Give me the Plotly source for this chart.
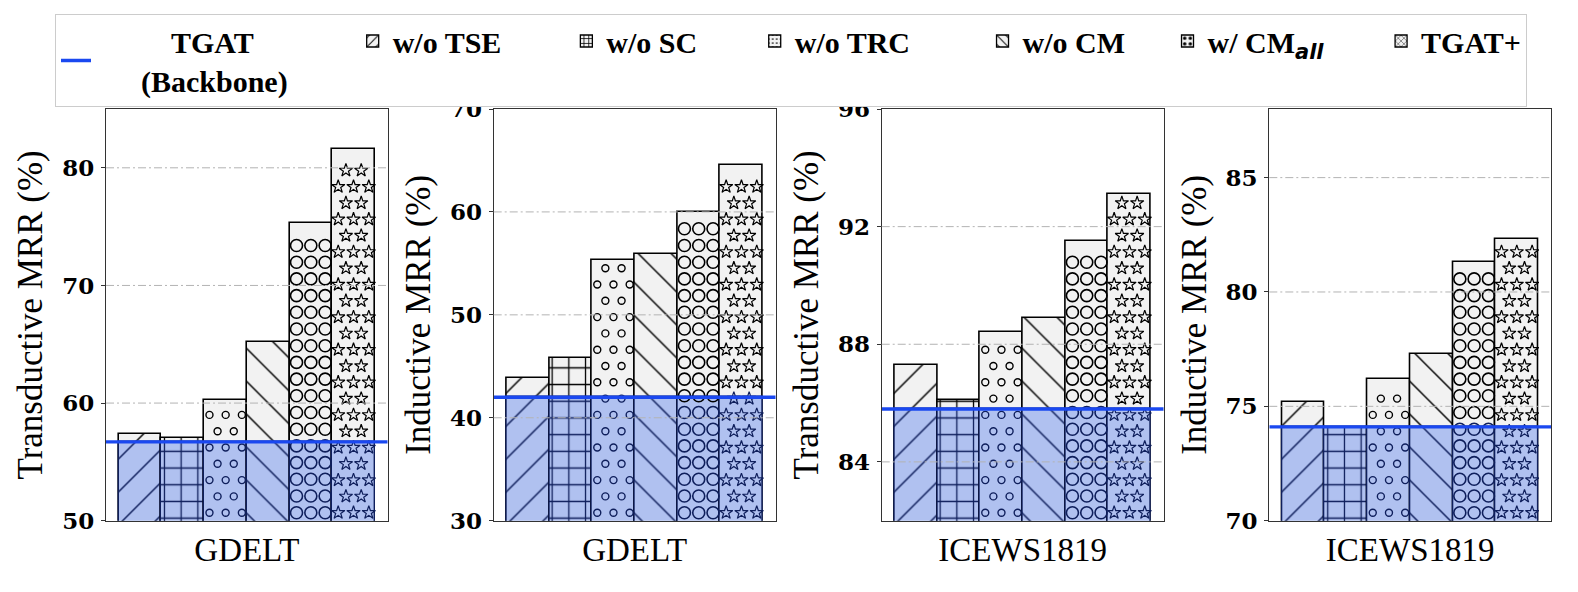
import plotly.graph_objects as go

NB = "\u00a0"

# ---------------- data ----------------
VARIANTS = ["w/o TSE", "w/o SC", "w/o TRC", "w/o CM",
            "w/ CM<sub><i><span style='font-family:DejaVu Sans'>all</span></i></sub>", "TGAT+"]
BACKBONE_LINES = ["TGAT", "(Backbone)"]
DATASETS = ["GDELT", "GDELT", "ICEWS1819", "ICEWS1819"]
Y_TITLES = ["Transductive MRR (%)", "Inductive MRR (%)", "Transductive MRR (%)", "Inductive MRR (%)"]
BACKBONE = [56.7, 42.0, 85.8, 74.1]
GDELT_TRANS = [57.4, 57.0, 60.3, 65.2, 75.3, 81.6]
GDELT_IND = [43.9, 45.8, 55.3, 55.9, 60.0, 64.6]
ICEWS_TRANS = [87.3, 86.1, 88.4, 88.9, 91.5, 93.1]
ICEWS_IND = [75.2, 74.0, 76.2, 77.3, 81.3, 82.3]
VALUES = [GDELT_TRANS, GDELT_IND, ICEWS_TRANS, ICEWS_IND]
Y_RANGES = [[50, 85], [30, 70], [82, 96], [70, 88]]
Y_TICKS = [[50, 60, 70, 80], [30, 40, 50, 60, 70], [84, 88, 92, 96], [70, 75, 80, 85]]

# ---------------- style ----------------
HATCHES = ["/", "+", "o", "\\", "O", "*"]
LEGEND_TRAIL = [8, 7, 9, 5, 7, 0]   # spacing (non-breaking spaces) after each legend label
WIN_W, WIN_H = 1578, 592
PAGE_MARGIN = 8  # default <body> margin of the html page
FIG_W, FIG_H = WIN_W - 2 * PAGE_MARGIN, WIN_H - 2 * PAGE_MARGIN
# plot areas in window pixels
X_DOM_PX = [(106, 387.7), (493.7, 775.7), (881.7, 1163.7), (1269.3, 1551)]
Y_DOM_PX = (109, 520.7)
X_RANGE = [-0.8, 5.8]
GRAY = "#f2f2f2"
BLUE_FILL = "#b0c1f0"
NAVY = "#0f1f5c"
BLUE_LINE = "#1a48f0"
SERIF = "Liberation Serif"
TICKFONT = dict(family="DejaVu Serif", size=23, color="black", weight="bold")

NATIVE = {"/": dict(shape="/", size=23.3, solidity=0.062),
          "\\": dict(shape="\\", size=23.3, solidity=0.062),
          "+": dict(shape="+", size=16.7, solidity=0.15)}
MARKER_HATCH = {
    "o": dict(symbol="circle-open", size=7, lw=1.4, sp=16.3, r=3.5,
              offs=[[5.3, 21.5, 37.7], [13.4, 29.6]]),
    "O": dict(symbol="circle-open", size=12, lw=1.6, sp=16.7, r=6,
              offs=[[7.0, 21.3, 35.6], [7.0, 21.3, 35.6]]),
    "*": dict(symbol="star-open", size=10, lw=1.2, sp=16.3, r=4.5,
              offs=[[6.0, 21.3, 36.6], [13.7, 29.0]]),
}
LEGEND_PAT = {"/": dict(shape="/", size=8, solidity=0.15),
              "\\": dict(shape="\\", size=8, solidity=0.15),
              "+": dict(shape="+", size=6, solidity=0.3),
              "o": dict(shape=".", size=5, solidity=0.15),
              "O": dict(shape=".", size=7, solidity=0.3),
              "*": dict(shape="x", size=5, solidity=0.2)}


def fx(px):
    return (px - PAGE_MARGIN) / FIG_W


def fy(px):
    return 1 - (px - PAGE_MARGIN) / FIG_H


fig = go.Figure()

# legend entries
backbone_name = (NB * 10 + BACKBONE_LINES[0] + "<br>" + NB * 6 + BACKBONE_LINES[1] + NB * 8)
fig.add_trace(go.Scatter(x=[None], y=[None], mode="lines", name=backbone_name,
                         line=dict(color=BLUE_LINE, width=3.5), showlegend=True))
for name, h, trail in zip(VARIANTS, HATCHES, LEGEND_TRAIL):
    fig.add_trace(go.Bar(x=[None], y=[None], name=name + NB * trail, showlegend=True,
                         marker=dict(color=GRAY, line=dict(color="black", width=1.3),
                                     pattern=dict(fgcolor="black", bgcolor=GRAY, fgopacity=1,
                                                  **LEGEND_PAT[h]))))

shapes = []
for p in range(4):
    xa = "x" if p == 0 else f"x{p + 1}"
    ya = "y" if p == 0 else f"y{p + 1}"
    vals = VALUES[p]
    ymin, ymax = Y_RANGES[p]
    base = BACKBONE[p]
    x0, x1 = X_DOM_PX[p]
    pxpx = (x1 - x0) / (X_RANGE[1] - X_RANGE[0])
    pxpy = (Y_DOM_PX[1] - Y_DOM_PX[0]) / (ymax - ymin)
    for i, (v, h) in enumerate(zip(vals, HATCHES)):
        mg = dict(color=GRAY, line=dict(color="black", width=1.6))
        mb = dict(color=BLUE_FILL, line=dict(color=NAVY, width=1.4))
        if h in NATIVE:
            mg["pattern"] = dict(fgcolor="black", bgcolor=GRAY, fgopacity=1, **NATIVE[h])
            mb["pattern"] = dict(fgcolor=NAVY, bgcolor=BLUE_FILL, fgopacity=1, **NATIVE[h])
        fig.add_trace(go.Bar(x=[i], y=[v], width=1, marker=mg, showlegend=False,
                             xaxis=xa, yaxis=ya, hoverinfo="skip"))
        fig.add_trace(go.Bar(x=[i], y=[base], width=1, marker=mb, showlegend=False,
                             xaxis=xa, yaxis=ya, hoverinfo="skip"))
        if h in MARKER_HATCH:
            cfg = MARKER_HATCH[h]
            top_px = (v - ymin) * pxpy
            up_x, up_y, lo_x, lo_y = [], [], [], []
            ypx, k = 8.0, 0
            while ypx + cfg["r"] <= top_px - 1.5:
                for o in cfg["offs"][k % 2]:
                    xd = i - 0.5 + o / pxpx
                    yd = ymin + ypx / pxpy
                    if yd < base:
                        lo_x.append(xd); lo_y.append(yd)
                    else:
                        up_x.append(xd); up_y.append(yd)
                ypx += cfg["sp"]
                k += 1
            for xs, ys, col in ((up_x, up_y, "black"), (lo_x, lo_y, NAVY)):
                fig.add_trace(go.Scatter(x=xs, y=ys, mode="markers", showlegend=False,
                                         xaxis=xa, yaxis=ya, hoverinfo="skip",
                                         marker=dict(symbol=cfg["symbol"], size=cfg["size"],
                                                     color=col, line=dict(color=col, width=cfg["lw"]))))
    # backbone line
    fig.add_trace(go.Scatter(x=X_RANGE, y=[base, base], mode="lines", showlegend=False,
                             xaxis=xa, yaxis=ya, hoverinfo="skip",
                             line=dict(color=BLUE_LINE, width=3.4)))
    # dash-dot grid above bars
    for t in Y_TICKS[p]:
        if ymin < t < ymax:
            shapes.append(dict(type="line", xref=f"{xa} domain", yref=ya, x0=0, x1=1, y0=t, y1=t,
                               layer="above", line=dict(color="#b3b3b3", width=1, dash="8px,3px,2px,3px")))

    dom_x = [fx(x0), fx(x1)]
    dom_y = [fy(Y_DOM_PX[1]), fy(Y_DOM_PX[0])]
    key = "" if p == 0 else str(p + 1)
    fig.layout["xaxis" + key] = dict(domain=dom_x, range=X_RANGE, anchor=ya, automargin=False,
                                     tickvals=[2.5], ticktext=[DATASETS[p]], ticks="",
                                     tickfont=dict(family=SERIF, size=33, color="black"),
                                     showgrid=False, zeroline=False, showline=True, mirror=True,
                                     linecolor="#333333", linewidth=1.3, fixedrange=True)
    fig.layout["yaxis" + key] = dict(domain=dom_y, range=Y_RANGES[p], anchor=xa, automargin=False,
                                     tickvals=Y_TICKS[p], ticks="outside", ticklen=4,
                                     ticklabelstandoff=2,
                                     tickcolor="#333333", tickfont=TICKFONT,
                                     showgrid=False, zeroline=False, showline=True, mirror=True,
                                     linecolor="#333333", linewidth=1.3, fixedrange=True,
                                     title=dict(text=Y_TITLES[p], standoff=8,
                                                font=dict(family=SERIF, size=35, color="black")))

fig.update_layout(
    width=FIG_W, height=FIG_H, barmode="overlay", bargap=0,
    margin=dict(l=0, r=0, t=0, b=0, autoexpand=False),
    paper_bgcolor="white", plot_bgcolor="white",
    shapes=shapes,
    legend=dict(orientation="h", x=fx(55), xanchor="left", y=fy(14), yanchor="top",
                bordercolor="#cccccc", borderwidth=1, bgcolor="white",
                font=dict(family=SERIF, size=30, color="black", weight="bold"),
                itemwidth=30, entrywidthmode="pixels", entrywidth=0,
                traceorder="normal"),
)

fig.write_html("out.html")
